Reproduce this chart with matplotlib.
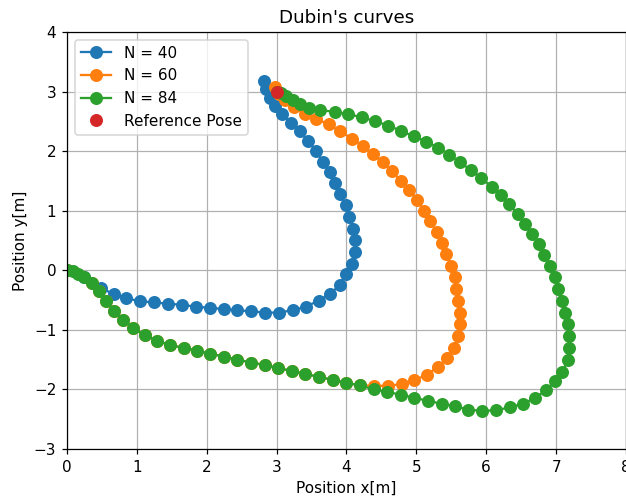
import matplotlib
matplotlib.use("Agg")
import matplotlib.pyplot as plt

# Trayectorias
x40 = [0.0, 0.25, 0.49, 0.67, 0.85, 1.05, 1.25, 1.44, 1.64, 1.84, 2.04, 2.24, 2.44, 2.64,
       2.84, 3.03, 3.23, 3.42, 3.60, 3.77, 3.91, 4.00, 4.08, 4.12, 4.12, 4.10, 4.04, 3.99,
       3.91, 3.84, 3.76, 3.66, 3.57, 3.45, 3.33, 3.20, 3.07, 2.97, 2.90, 2.85, 2.82]
y40 = [0.0, -0.12, -0.30, -0.40, -0.47, -0.52, -0.54, -0.56, -0.58, -0.61, -0.63, -0.65, -0.67, -0.69,
       -0.71, -0.71, -0.67, -0.61, -0.51, -0.39, -0.24, -0.07, 0.11, 0.30, 0.51, 0.70, 0.90, 1.10,
       1.28, 1.47, 1.65, 1.82, 2.00, 2.17, 2.33, 2.48, 2.63, 2.76, 2.90, 3.04, 3.18]

x60 = [0.0, 0.36, 0.46, 0.56, 0.67, 0.80, 0.95, 1.11, 1.29, 1.48, 1.67, 1.86, 2.05, 2.25,
       2.44, 2.64, 2.83, 3.02, 3.22, 3.41, 3.61, 3.80, 3.99, 4.19, 4.40, 4.59, 4.79, 4.97,
       5.15, 5.31, 5.44, 5.54, 5.60, 5.63, 5.62, 5.60, 5.57, 5.55, 5.49, 5.43, 5.36, 5.29,
       5.20, 5.11, 5.01, 4.90, 4.78, 4.65, 4.52, 4.38, 4.23, 4.08, 3.91, 3.75, 3.57, 3.40,
       3.25, 3.12, 3.03, 2.97]
y60 = [0.0, -0.21, -0.34, -0.51, -0.68, -0.83, -0.97, -1.09, -1.18, -1.26, -1.30, -1.35, -1.40, -1.45,
       -1.50, -1.55, -1.59, -1.64, -1.69, -1.74, -1.79, -1.84, -1.89, -1.93, -1.94, -1.94, -1.91, -1.85,
       -1.75, -1.62, -1.47, -1.30, -1.10, -0.90, -0.71, -0.51, -0.31, -0.11, 0.08, 0.27, 0.46, 0.64,
       0.82, 1.00, 1.18, 1.35, 1.50, 1.66, 1.81, 1.95, 2.09, 2.21, 2.33, 2.45, 2.54, 2.63,
       2.74, 2.86, 2.96, 3.08]

x84 = [0.0, 0.09, 0.16, 0.24, 0.36, 0.46, 0.56, 0.67, 0.80, 0.95, 1.11, 1.29, 1.48, 1.67,
       1.86, 2.05, 2.25, 2.44, 2.64, 2.83, 3.02, 3.22, 3.41, 3.61, 3.80, 3.99, 4.19, 4.39,
       4.58, 4.78, 4.97, 5.16, 5.36, 5.55, 5.74, 5.94, 6.14, 6.34, 6.53, 6.70, 6.86, 6.98,
       7.09, 7.17, 7.19, 7.18, 7.17, 7.13, 7.09, 7.03, 6.98, 6.91, 6.83, 6.75, 6.66, 6.55,
       6.45, 6.33, 6.21, 6.08, 5.93, 5.78, 5.62, 5.47, 5.31, 5.14, 4.96, 4.78, 4.60, 4.41,
       4.22, 4.02, 3.83, 3.62, 3.47, 3.34, 3.23, 3.13, 3.06, 3.00]
y84 = [0.0, -0.02, -0.06, -0.12, -0.21, -0.34, -0.51, -0.68, -0.83, -0.97, -1.09, -1.18, -1.26, -1.30,
       -1.35, -1.40, -1.45, -1.50, -1.55, -1.59, -1.64, -1.69, -1.74, -1.79, -1.84, -1.89, -1.93, -2.00,
       -2.04, -2.09, -2.14, -2.19, -2.24, -2.28, -2.34, -2.36, -2.35, -2.30, -2.24, -2.14, -2.01, -1.86,
       -1.71, -1.50, -1.31, -1.10, -0.91, -0.71, -0.52, -0.31, -0.11, 0.08, 0.26, 0.44, 0.61, 0.78,
       0.94, 1.11, 1.26, 1.40, 1.55, 1.68, 1.82, 1.94, 2.06, 2.16, 2.25, 2.34, 2.43, 2.50,
       2.57, 2.62, 2.66, 2.69, 2.73, 2.79, 2.86, 2.92, 2.97, 3.00]

ref_x = [3.0]
ref_y = [3.0]

dpi = 110
fig = plt.figure(figsize=(626 / dpi, 500 / dpi), dpi=dpi)
ax = fig.add_axes([0.107, 0.102, 0.893, 0.834])

ax.plot(x40, y40, marker="o", markersize=7.5, color="tab:blue", label="N = 40")
ax.plot(x60, y60, marker="o", markersize=7.5, color="tab:orange", label="N = 60")
ax.plot(x84, y84, marker="o", markersize=7.5, color="tab:green", label="N = 84")
ax.plot(ref_x, ref_y, marker="o", markersize=7.5, linestyle="none", color="tab:red",
        label="Reference Pose")

ax.set_xlim(0, 8)
ax.set_ylim(-3, 4)
ax.grid(True)
ax.set_title("Dubin's curves")
ax.set_xlabel("Position x[m]")
ax.set_ylabel("Position y[m]")
ax.legend(loc="upper left", fontsize=10)

fig.savefig("out.png", dpi=dpi)
